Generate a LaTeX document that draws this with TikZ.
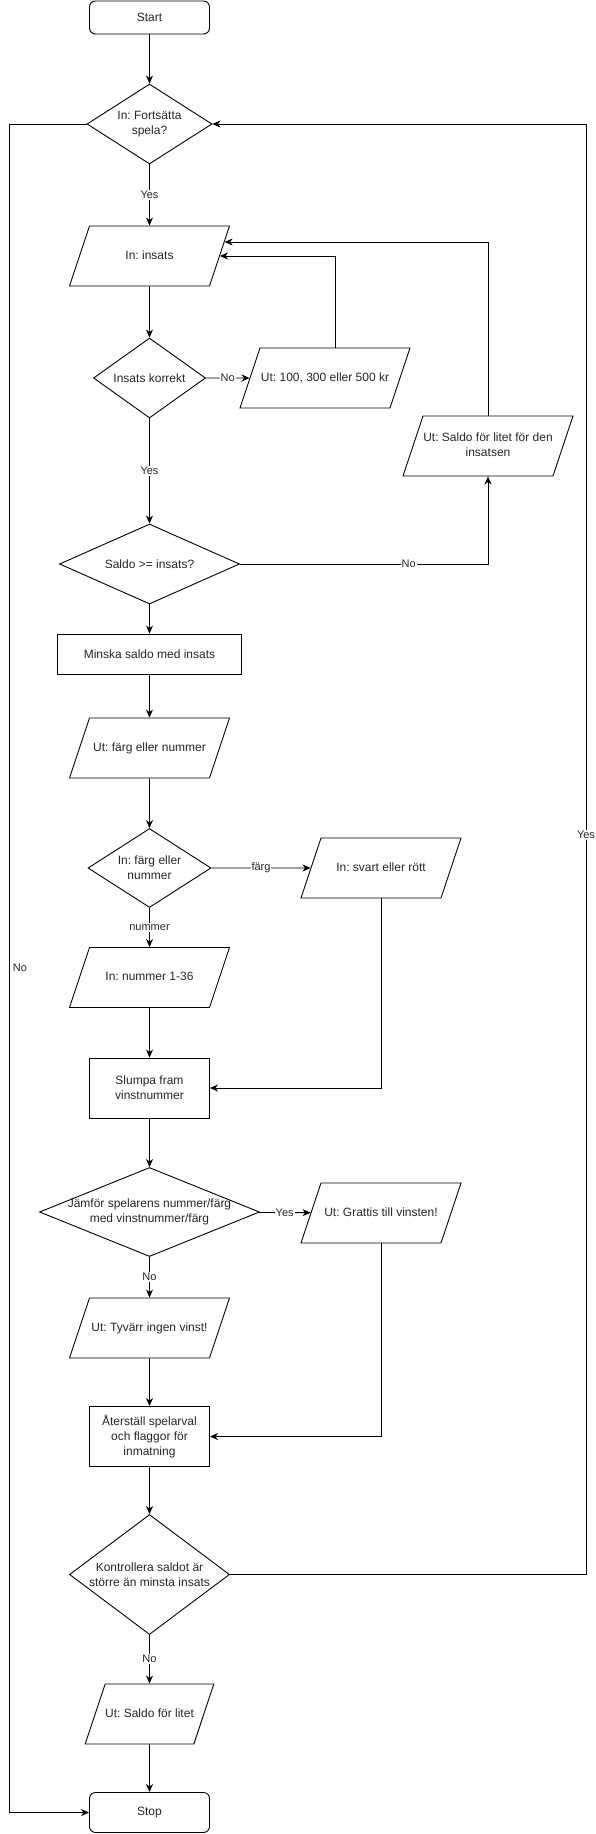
\documentclass[tikz,border=0pt]{standalone}
\usepackage{fontspec}
\setmainfont{Liberation Sans}
\usetikzlibrary{calc,shapes.geometric,arrows.meta}
\frenchspacing

\begin{document}
\begin{tikzpicture}[x=1pt, y=-1pt, line width=0.9pt,
		every node/.style={font=\fontsize{12}{15}\selectfont, text=black!85, align=center},
		startstop/.style={draw, rounded corners=6pt, minimum width=120pt, inner sep=0pt},
		steg/.style={draw, rectangle, inner sep=0pt},
		beslut/.style={draw, diamond, inner xsep=-10pt, inner ysep=-3pt},
		io/.style={draw, trapezium, trapezium left angle=71.57, trapezium right angle=108.43, trapezium stretches body, minimum width=#1, minimum height=60pt, inner xsep=0pt, inner ysep=24pt, text height=9pt, text depth=3pt},
		io/.default=160pt,
		pil/.style={-{Stealth[length=8pt, width=7pt, inset=2.5pt]}},
		etikett/.style={fill=white, font=\fontsize{11}{13}\selectfont, inner sep=1pt}]
		%%%%% START %%%%%
		
		\useasboundingbox (0, 0) rectangle (596, 1834);
		
		\node[startstop, minimum height=33pt] (start) at (149.5, 17.5) {Start};
		\node[beslut, minimum width=125pt, minimum height=80pt, shape aspect=1.56] (fortsatt) at (149.5, 124) {In: Fortsätta\\spela?};
		\node[io] (insats) at (149.5, 256) {In: insats};
		\node[beslut, minimum width=112pt, minimum height=80pt, shape aspect=1.4] (korrekt) at (149.5, 378) {Insats korrekt};
		\node[io=170pt] (belopp) at (325, 378) {Ut: 100, 300 eller 500 kr};
		\node[io=170pt, inner ysep=16.5pt, text height=24pt] (forlitet) at (488, 446) {Ut: Saldo för litet för den\\insatsen};
		\node[beslut, minimum width=180pt, minimum height=80pt, shape aspect=2.25] (saldo) at (149.5, 564) {Saldo >= insats?};
		\node[steg, minimum width=184pt, minimum height=40pt] (minska) at (149.5, 654) {Minska saldo med insats};
		
		\node[io] (valut) at (149.5, 748) {Ut: färg eller nummer};
		\node[beslut, minimum width=123pt, minimum height=79pt, shape aspect=1.56] (val) at (149.5, 868) {In: färg eller\\nummer};
		\node[io] (svartrott) at (381, 868) {In: svart eller rött};
		\node[io] (nummer) at (149.5, 977.5) {In: nummer 1-36};
		\node[steg, minimum width=120pt, minimum height=60pt] (slumpa) at (149.5, 1088) {Slumpa fram\\vinstnummer};
		
		\node[beslut, minimum width=220pt, minimum height=89pt, shape aspect=2.47] (jamfor) at (149.5, 1212) {Jämför spelarens nummer/färg\\med vinstnummer/färg};
		\node[io] (grattis) at (381, 1213) {Ut: Grattis till vinsten!};
		\node[io] (tyvarr) at (149.5, 1328) {Ut: Tyvärr ingen vinst!};
		\node[steg, minimum width=120pt, minimum height=60pt] (aterstall) at (149.5, 1436.5) {Återställ spelarval\\och flaggor för\\inmatning};
		\node[beslut, minimum width=160pt, minimum height=120pt, shape aspect=1.33] (kontroll) at (149.5, 1574.5) {Kontrollera saldot är\\större än minsta insats};
		\node[io=120pt] (litet) at (149.5, 1714) {Ut: Saldo för litet};
		\node[startstop, minimum height=40pt] (stop) at (149.5, 1812.5) {Stop};
		
		\coordinate (hoger) at (586, 0);
		\coordinate (vanster) at (9.5, 0);
		
		\draw[pil] (start) -- (fortsatt);
		\draw[pil] (fortsatt) -- node[etikett] {Yes} (insats);
		\draw[pil] (fortsatt.west) -- (fortsatt.west -| vanster) -- node[etikett, fill=none, right=2pt] {No} (stop.west -| vanster) -- (stop.west);
		\draw[pil] (insats) -- (korrekt);
		\draw[pil] (korrekt) -- node[etikett] {No} (belopp);
		\draw[pil] (belopp.top side) |- (insats.right side);
		\draw[pil] (korrekt) -- node[etikett] {Yes} (saldo);
		\draw[pil] (saldo.east) -| node[etikett, pos=0.34] {No} (forlitet.south);
		\draw[pil] (forlitet.north) |- ($(insats.bottom right corner)!0.73!(insats.top right corner)$);
		\draw[pil] (saldo) -- (minska);
		\draw[pil] (minska) -- (valut);
		\draw[pil] (valut) -- (val);
		
		\draw[pil] (val) -- node[etikett] {färg} (svartrott);
		\draw[pil] (val) -- node[etikett] {nummer} (nummer);
		\draw[pil] (svartrott) |- (slumpa);
		\draw[pil] (nummer) -- (slumpa);
		\draw[pil] (slumpa) -- (jamfor);
		\draw[pil] (jamfor) -- node[etikett] {Yes} (grattis);
		\draw[pil] (jamfor) -- node[etikett] {No} (tyvarr);
		\draw[pil] (grattis) |- (aterstall);
		\draw[pil] (tyvarr) -- (aterstall);
		\draw[pil] (aterstall) -- (kontroll);
		\draw[pil] (kontroll.east) -- (kontroll.east -| hoger) -- node[etikett, pos=0.51] {Yes} (fortsatt.east -| hoger) -- (fortsatt.east);
		\draw[pil] (kontroll) -- node[etikett] {No} (litet);
		\draw[pil] (litet) -- (stop);
		
		%%%%% END %%%%%
	\end{tikzpicture}
\end{document}
